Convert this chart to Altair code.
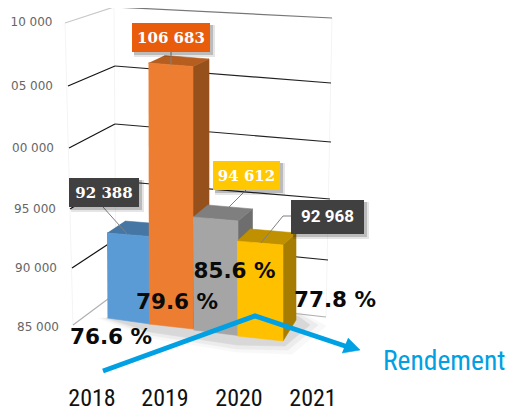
import altair as alt
import pandas as pd

years = ["2018", "2019", "2020", "2021"]
values = [92388, 106683, 94612, 92968]
value_labels = ["92 388", "106 683", "94 612", "92 968"]
percents = ["76.6 %", "79.6 %", "85.6 %", "77.8 %"]
ticks = [110000, 105000, 100000, 95000, 90000, 85000]
tick_labels = ["10 000", "05 000", "00 000", "95 000", "90 000", "85 000"]

W, H = 501, 404
K = 0.012  # px per unit on the y scale


def val(py):
    return 85000 + (327.5 - py) / K


def py_of(v):
    return 327.5 - (v - 85000) * K


XS = alt.Scale(domain=[8, 8 + W], range=[0, W], nice=False, zero=False)
YS = alt.Scale(domain=[val(8 + H), val(8)], range=[H, 0], nice=False, zero=False)


def X(f="x"):
    return alt.X(f"{f}:Q", scale=XS, axis=None)


def Y(f="y"):
    return alt.Y(f"{f}:Q", scale=YS, axis=None)


def poly(pts, color, opacity=1.0, sw=0.6):
    df = pd.DataFrame({"x": [p[0] for p in pts], "y": [val(p[1]) for p in pts], "i": range(len(pts))})
    return alt.Chart(df).mark_line(fill=color, stroke=color, strokeWidth=sw, opacity=opacity).encode(
        x=X(), y=Y(), order=alt.Order("i:Q"))


def path(pts, color, width, opacity=1.0):
    df = pd.DataFrame({"x": [p[0] for p in pts], "y": [val(p[1]) for p in pts], "i": range(len(pts))})
    return alt.Chart(df).mark_line(stroke=color, strokeWidth=width, opacity=opacity, strokeCap="butt", strokeJoin="miter").encode(
        x=X(), y=Y(), order=alt.Order("i:Q"))


def label(txt, cx, cy, color, size, font, weight="normal", align="center"):
    df = pd.DataFrame({"x": [cx], "y": [val(cy)], "t": [txt]})
    return alt.Chart(df).mark_text(color=color, fontSize=size, font=font, fontWeight=weight, align=align,
                                   baseline="middle").encode(x=X(), y=Y(), text="t:N")


def rect(x0, y0, x1, y1, color, opacity=1.0):
    df = pd.DataFrame({"x": [x0], "x2": [x1], "y": [val(y0)], "y2": [val(y1)]})
    return alt.Chart(df).mark_rect(color=color, opacity=opacity).encode(x=X(), x2="x2:Q", y=Y(), y2="y2:Q")


layers = []

# faint walls
for pts in [[(65, 23), (73, 325)], [(114, 7), (116, 293)], [(332, 18), (326, 317)]]:
    layers.append(path(pts, "#f4f4f4", 1))

# floor shadow
layers.append(poly([(98, 318), (150, 338), (237, 352), (292, 354), (326, 326), (300, 312)], "#000000", 0.025))
layers.append(poly([(102, 318), (150, 335), (237, 349), (288, 350), (318, 325), (300, 314)], "#000000", 0.045))
layers.append(poly([(106, 318), (150, 332), (237, 345), (285, 346), (310, 325), (298, 316)], "#000000", 0.08))

# gridlines
GRID_FRONT_X = [65, 68, 69, 70, 72, 73]
GRID_FRONT_Y = [23, 86, 148, 209, 268, 325]
GRID_BACK_X = [114, 115, 115, 116, 116, 116]
GRID_BACK_Y = [7, 66, 124, 181, 239, 293]
GRID_RIGHT_X = [332, 331, 331, 330, 328, 326]
GRID_RIGHT_Y = [18, 83, 142, 199, 260, 317]
for i, t in enumerate(ticks):
    left = "#c8c8c8" if i == 0 else ("#b0b0b0" if i == 5 else "#111111")
    right = "#777777" if i == 0 else ("#b0b0b0" if i == 5 else "#222222")
    layers.append(path([(GRID_FRONT_X[i], GRID_FRONT_Y[i]), (GRID_BACK_X[i], GRID_BACK_Y[i])], left, 1.2))
    layers.append(path([(GRID_BACK_X[i], GRID_BACK_Y[i]), (GRID_RIGHT_X[i], GRID_RIGHT_Y[i])], right, 1.2))

# axis labels
AX_X = [31.5, 32, 33, 35, 36, 38]
for i, t in enumerate(tick_labels):
    layers.append(label(t, AX_X[i], [22, 86, 148, 209, 268, 327][i], "#666666", 12, "DejaVu Sans"))

# 3D bars
LEFT = [107, 148.5, 193, 237]
RIGHT = [150, 193, 238, 283]
FLOOR_L = [318, 324, 330, 336]
FLOOR_R = [324, 329, 335.5, 341]
TOP_SHIFT = [-5.8, -4.3, 4.8, 9.1]
TOP_TILT = [3.5, 3.5, 4, 4]
DEPTH_X = [18, 16, 14.5, 13]
DEPTH_Y = [12, 7.5, 12, 12]
FRONT = ["#5b9bd5", "#ed7d31", "#a5a5a5", "#ffc000"]
TOPC = ["#4676a3", "#b55e20", "#7f7f7f", "#bf9000"]
SIDE = ["#3f6a92", "#96501c", "#6e6e6e", "#a67d00"]
for i, v in enumerate(values):
    l, r = LEFT[i], RIGHT[i]
    t = py_of(v) + TOP_SHIFT[i]
    tr = t + TOP_TILT[i]
    dx, dy = DEPTH_X[i], DEPTH_Y[i]
    layers.append(poly([(r, tr), (r + dx, tr - dy), (r + dx, FLOOR_R[i] - 21), (r, FLOOR_R[i])], SIDE[i]))
    layers.append(poly([(l, t), (r, tr), (r + dx, tr - dy), (l + dx, t - dy)], TOPC[i]))
    layers.append(poly([(l, t), (r, tr), (r, FLOOR_R[i]), (l + 0.5, FLOOR_L[i])], FRONT[i]))

# leader lines
for pts in [[(103, 207), (128, 235)], [(171, 52), (171, 65)], [(246, 190), (228, 208)], [(291, 216), (283, 216), (261, 243)]]:
    layers.append(path(pts, "#808080", 1))

# value boxes
BOX = [(69, 178, 139, 207), (132, 23, 210, 52), (213, 161, 280, 190), (291, 200, 364, 234)]
BOXC = ["#404040", "#e95c0b", "#ffc800", "#404040"]
BOXF = [("DejaVu Serif", 15), ("DejaVu Serif", 15), ("DejaVu Serif", 15), ("Roboto", 17)]
for i, b in enumerate(BOX):
    layers.append(rect(b[0] + 2, b[1] + 2, b[2] + 5, b[3] + 5, "#000000", 0.10))
    layers.append(rect(b[0] + 2, b[1] + 2, b[2] + 3, b[3] + 3, "#000000", 0.18))
    layers.append(rect(b[0], b[1], b[2], b[3], BOXC[i]))
    layers.append(label(value_labels[i], (b[0] + b[2]) / 2, (b[1] + b[3]) / 2, "#ffffff", BOXF[i][1], BOXF[i][0], "bold"))

# percentages
PCT_X = [111, 177, 234.5, 335]
PCT_Y = [338, 303, 272, 301]
for i, p in enumerate(percents):
    layers.append(label(p, PCT_X[i], PCT_Y[i], "#0a0a0a", 21.5, "DejaVu Sans", "bold"))

# rendement arrow
BLUE = "#00a0e3"
layers.append(path([(103, 371), (255, 316), (348, 347)], BLUE, 5))
layers.append(poly([(348, 338), (360, 350), (342, 353)], BLUE))
layers.append(label("Rendement", 383, 362, BLUE, 27.5, "Roboto Condensed", align="left"))

# year labels
YEAR_X = [92, 165, 239, 313]
for i, y in enumerate(years):
    layers.append(label(y, YEAR_X[i], 398.5, "#111111", 24, "Roboto Condensed"))

chart = alt.layer(*layers).properties(
    width=W, height=H, padding=0, background="#ffffff",
    autosize=alt.AutoSizeParams(type="none"),
).configure_view(stroke=None)

chart.save("out.html", embed_options={"renderer": "svg", "actions": False})
